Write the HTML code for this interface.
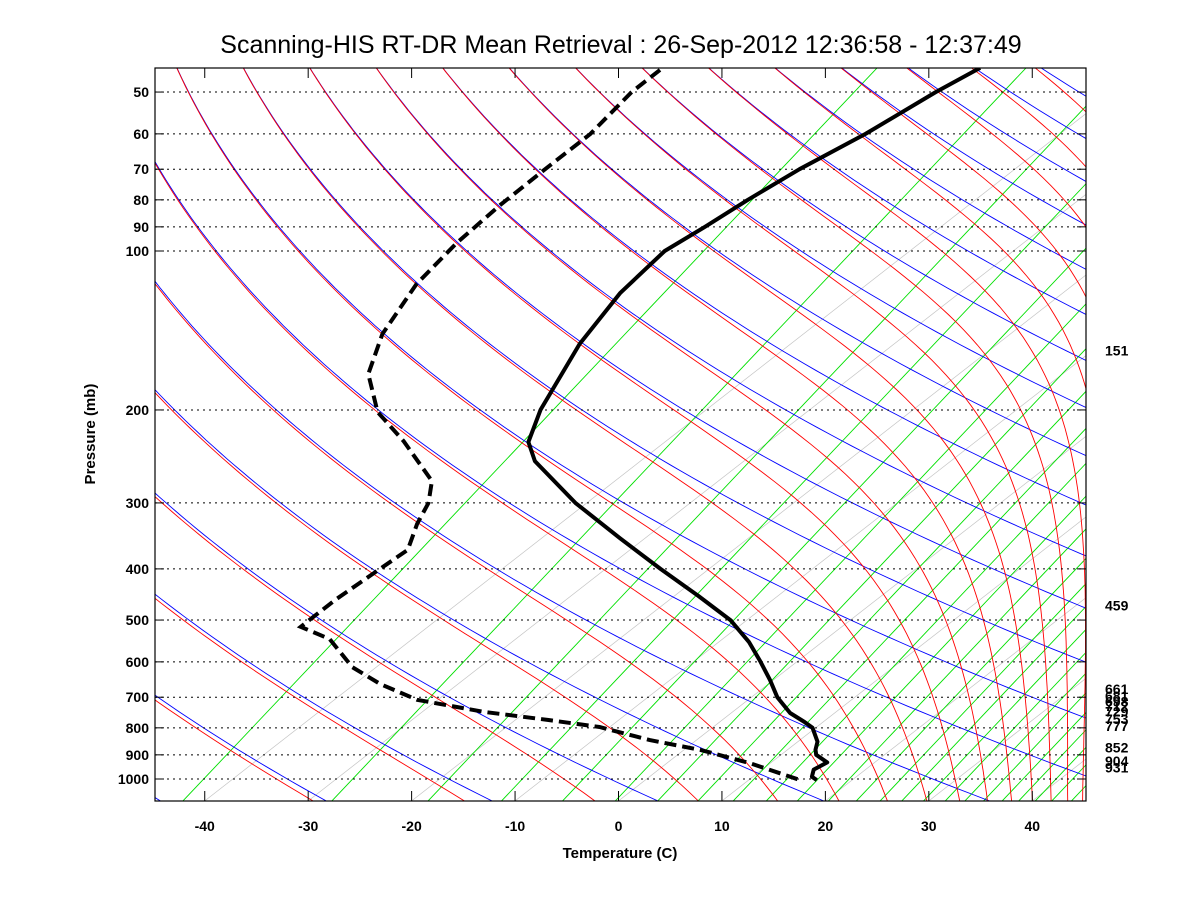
<!DOCTYPE html>
<html><head><meta charset="utf-8"><style>
html,body{margin:0;padding:0;background:#fff;}
svg text{font-family:"Liberation Sans",sans-serif;}
</style></head><body>
<svg id="chart" width="1200" height="900" viewBox="0 0 1200 900" xmlns="http://www.w3.org/2000/svg">
<rect x="0" y="0" width="1200" height="900" fill="#fff"/>
<defs><clipPath id="clip"><rect x="155" y="68" width="931" height="733"/></clipPath></defs>
<text x="621" y="53" text-anchor="middle" font-size="25">Scanning-HIS RT-DR Mean Retrieval : 26-Sep-2012 12:36:58 - 12:37:49</text>
<g id="bg" clip-path="url(#clip)"></g>
<g id="grid"></g>
<g id="series" clip-path="url(#clip)"></g>
<rect x="155" y="68" width="931" height="733" fill="none" stroke="#000" stroke-width="1.2"/>
<g id="axes"></g>
<text x="620" y="858" text-anchor="middle" font-size="15" font-weight="bold">Temperature (C)</text>
<text x="0" y="0" transform="translate(95,434) rotate(-90)" text-anchor="middle" font-size="15" font-weight="bold">Pressure (mb)</text>
</svg>
<script>
// ---- data ----
const tempP = [45,50,60,70,80,90,100,120,150,200,230,250,300,350,400,450,500,550,600,650,700,750,780,800,850,880,900,930,960,990,1005];
const tempT = [-55.9,-57.2,-58.8,-60.8,-62.0,-62.8,-63.7,-62.8,-60.4,-56.0,-53.2,-50.2,-41.1,-32.4,-24.7,-17.7,-11.6,-7.1,-3.5,-0.3,2.5,5.7,8.2,9.7,11.9,12.7,13.4,15.4,15.0,15.7,16.6];
const dewP = [45.4,50,60,69.3,81.8,96.6,115.5,143.6,171,201.8,229,272.6,300,328.8,368,409,458,515,543,614,661,708,746,773,797,844,881,933,1009];
const dewT = [-86.6,-86.6,-85.4,-85.4,-85.3,-84.8,-83.6,-80.7,-77.1,-71.5,-65.4,-57.7,-55.3,-53.8,-51.5,-51.9,-52.3,-52.3,-48.0,-42.3,-37.5,-32.0,-24.1,-16.8,-11.0,-4.5,1.6,8.0,15.4];
const xTicks = [-40,-30,-20,-10,0,10,20,30,40];
const yTicks = [50,60,70,80,90,100,200,300,400,500,600,700,800,900,1000];
const rightLabels = [151,459,661,681,698,712,729,753,777,852,904,931];
const greenT = [-42.1,-27.7,-18.4,-11.3,-5.4,-0.3,3.8,7.7,11.1,14.3,17.3,20.3,23,25.3,27.4,29.5,31.6,33.5,35.3,37.1,38.7,40.3,41.9,43.8];
const isoT = [-40,-30,-20,-10,0,10,20,30,40];
const thetaStart = 218, thetaStep = 15.6, thetaCount = 36;

// ---- axis functions ----
const NS='http://www.w3.org/2000/svg';
function yP(p){ return 251 + 528*Math.log10(p/100); }
function xT(T,p){ return 618.5 + 10.344*T + 1.2822*(800.9 - yP(p)); }
function xBottom(T){ return 618.5 + 10.344*T; }
function xK(TK,p){ return -2129 + 10.344*TK + 677*Math.log10(1000/p); }
function mk(tag,attrs,parent){ const e=document.createElementNS(NS,tag); for(const k in attrs) e.setAttribute(k,attrs[k]); parent.appendChild(e); return e; }

const bg=document.getElementById('bg'), grid=document.getElementById('grid'), series=document.getElementById('series'), axes=document.getElementById('axes');

isoT.forEach(T=>{
  const l=mk('line',{x1:xT(T,1100),y1:yP(1100),x2:xT(T,40),y2:yP(40),stroke:'#c4c4c4','stroke-width':0.7},bg);
  
  
});
greenT.forEach(T=>{
  const xb=xBottom(T);
  const l=mk('line',{x1:xb,y1:yP(1100),x2:xb+500*Math.log10(1100/40),y2:yP(40),stroke:'#00e000','stroke-width':0.9},bg);
  
  
});
const Rd=287.04,cp=1005.7,Lv=2.501e6,eps=0.622;
function es(T){ return 6.112*Math.exp(17.67*(T-273.15)/(T-29.65)); }
for(let i=0;i<thetaCount;i++){
  const th=thetaStart+thetaStep*i;
  let d='';
  for(let k=0;k<=120;k++){
    const p=40*Math.pow(1100/40,k/120);
    const T=th*Math.pow(p/1000,0.286);
    d+=(k?'L':'M')+xK(T,p).toFixed(1)+','+yP(p).toFixed(1);
  }
  const b=mk('path',{d:d,fill:'none',stroke:'#0000ff','stroke-width':0.9},bg);
  
  
  let p=40, T=th*Math.pow(40/1000,0.286), dm='M'+xK(T,p).toFixed(1)+','+yP(p).toFixed(1);
  const n=300, dl=Math.log(1100/40)/n;
  for(let k=0;k<n;k++){
    const e=es(T), rs=eps*e/Math.max(p-e,1);
    const g=(Rd*T+Lv*rs)/(cp+Lv*Lv*rs*eps/(Rd*T*T));
    T+=g*dl; p=p*Math.exp(dl);
    if(k%3==2) dm+='L'+xK(T,p).toFixed(1)+','+yP(p).toFixed(1);
  }
  const r=mk('path',{d:dm,fill:'none',stroke:'#ff0000','stroke-width':0.9},bg);
  
  
}
yTicks.forEach(p=>{
  const y=yP(p);
  const g=mk('line',{x1:155,y1:y,x2:1086,y2:y,stroke:'#000','stroke-width':1,'stroke-dasharray':'2,4'},grid);
  
  
  const t1=mk('line',{x1:155,y1:y,x2:164,y2:y,stroke:'#000','stroke-width':1},axes);
  
  
  const t2=mk('line',{x1:1077,y1:y,x2:1086,y2:y,stroke:'#000','stroke-width':1},axes);
  
  
  const tx=mk('text',{x:149,y:y+5,'text-anchor':'end','font-size':14,'font-weight':'bold'},axes);
  tx.textContent=p;
  
  
});
xTicks.forEach(T=>{
  const x=xBottom(T);
  const a=mk('line',{x1:x,y1:801,x2:x,y2:791,stroke:'#000','stroke-width':1},axes);
  
  
  const b=mk('line',{x1:x,y1:68,x2:x,y2:78,stroke:'#000','stroke-width':1},axes);
  
  
  const tx=mk('text',{x:x,y:831,'text-anchor':'middle','font-size':14,'font-weight':'bold'},axes);
  tx.textContent=T;
  
  
});
rightLabels.forEach(p=>{
  const tx=mk('text',{x:1105,y:yP(p)+10,'font-size':14,'font-weight':'bold'},axes);
  tx.textContent=p;
  
  
});
function pathOf(P,T){ return P.map((p,i)=>(i?'L':'M')+xT(T[i],p).toFixed(1)+','+yP(p).toFixed(1)).join(''); }
const tl=mk('path',{d:pathOf(tempP,tempT),fill:'none',stroke:'#000','stroke-width':4,'stroke-linejoin':'round'},series);


const dl2=mk('path',{d:pathOf(dewP,dewT),fill:'none',stroke:'#000','stroke-width':4,'stroke-dasharray':'12,6'},series);


</script>
</body></html>
